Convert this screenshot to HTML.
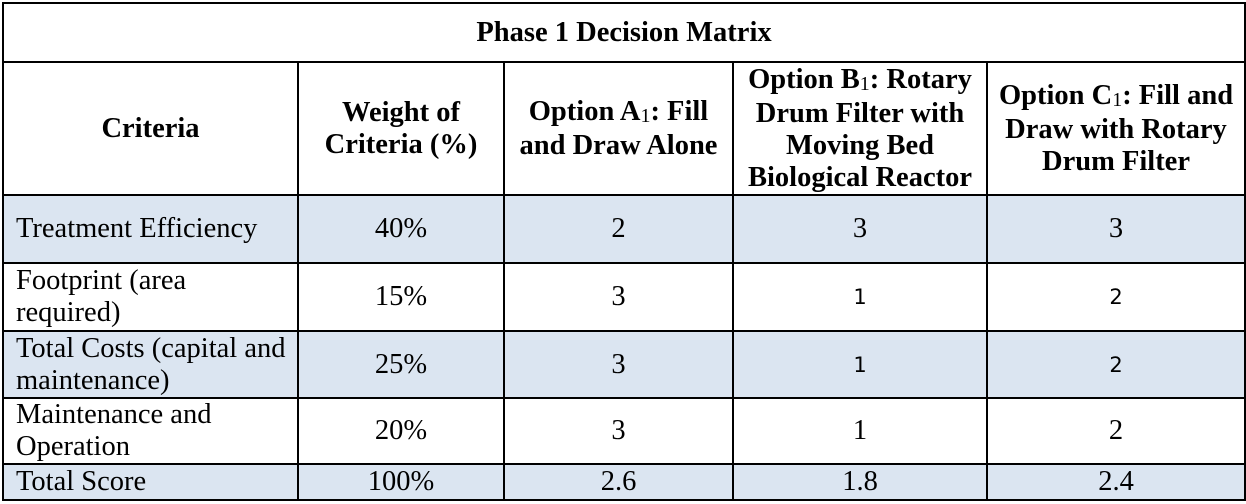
<!DOCTYPE html>
<html><head><meta charset="utf-8"><style>
html,body{margin:0;padding:0;background:#fff;width:1246px;height:504px;overflow:hidden}
table{position:absolute;left:2px;top:2px;border-collapse:collapse;table-layout:fixed;font-family:"Liberation Serif",serif;font-size:28.5px;line-height:32px;color:#000}
td,th{border:2px solid #000;padding:0 10px;text-align:center;vertical-align:middle;overflow:hidden}
th{font-weight:bold;line-height:32px}
td.l{text-align:left;padding-left:12px}
tr.s td{background:#dbe5f1}
.sans{font-family:"DejaVu Sans","Liberation Sans",sans-serif;font-size:21px}
.sub{font-size:20px;font-weight:normal;position:relative;top:2px}
</style></head><body>
<table>
<colgroup><col style="width:295px"><col style="width:206px"><col style="width:229px"><col style="width:254px"><col style="width:258px"></colgroup>
<tr style="height:59px"><th colspan="5">Phase 1 Decision Matrix</th></tr>
<tr style="height:133px">
<th>Criteria</th>
<th>Weight of Criteria (%)</th>
<th>Option A<span class="sub">1</span>: Fill and Draw Alone</th>
<th>Option B<span class="sub">1</span>: Rotary Drum Filter with Moving Bed Biological Reactor</th>
<th>Option C<span class="sub">1</span>: Fill and Draw with Rotary Drum Filter</th></tr>
<tr class="s" style="height:68px">
<td class="l">Treatment Efficiency</td><td>40%</td><td>2</td><td>3</td><td>3</td></tr>
<tr style="height:68px">
<td class="l">Footprint (area required)</td><td>15%</td><td>3</td><td class="sans">1</td><td class="sans">2</td></tr>
<tr class="s" style="height:67px">
<td class="l">Total Costs (capital and maintenance)</td><td>25%</td><td>3</td><td class="sans">1</td><td class="sans">2</td></tr>
<tr style="height:66px">
<td class="l">Maintenance and Operation</td><td>20%</td><td>3</td><td>1</td><td>2</td></tr>
<tr class="s" style="height:36px">
<td class="l">Total Score</td><td>100%</td><td>2.6</td><td>1.8</td><td>2.4</td></tr>
</table>
</body></html>
